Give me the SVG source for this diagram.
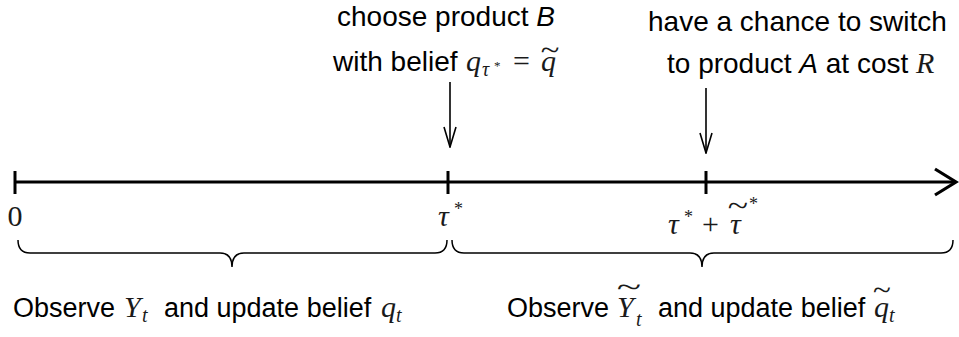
<svg xmlns="http://www.w3.org/2000/svg" width="959" height="337" viewBox="0 0 959 337">
<style>
.s{font-family:"Liberation Sans",Arial,sans-serif;font-size:28px;fill:#000}
.b{font-size:27px}
.m{font-family:"Liberation Serif","Times New Roman",serif;font-style:italic;font-size:30px;fill:#1a1a1a}
.mu{font-family:"Liberation Serif","Times New Roman",serif;font-style:normal;font-size:30px;fill:#1a1a1a}
.sub{font-size:20px}
.st{font-size:18px}
.sst{font-size:13px}
.ti{font-family:"Liberation Serif","Times New Roman",serif;font-size:30px;fill:#1a1a1a;text-anchor:middle}
.ln{stroke:#000;fill:none}
</style>
<defs>
<marker id="ah" viewBox="0 0 22 14" refX="21" refY="7" markerWidth="22" markerHeight="14" markerUnits="userSpaceOnUse" orient="auto">
<path d="M1,1 L21,7 L1,13" fill="none" stroke="#000" stroke-width="1.6"/>
</marker>
</defs>
<g id="axis">
<line class="ln" x1="15" y1="182" x2="955" y2="182" stroke-width="3"/>
<path class="ln" d="M935,169 L956,182 L935,195" stroke-width="3.2"/>
<line class="ln" x1="15" y1="171" x2="15" y2="194" stroke-width="3"/>
<line class="ln" x1="448" y1="171" x2="448" y2="194" stroke-width="3"/>
<line class="ln" x1="706" y1="171" x2="706" y2="194" stroke-width="3"/>
</g>
<g id="label-0">
<text class="mu" x="15" y="226" text-anchor="middle">0</text>
</g>
<g id="label-tau">
<text class="m" x="438" y="226">τ</text>
<text class="mu st" x="454" y="215">*</text>
</g>
<g id="label-tau-tilde">
<text class="m" x="668" y="234">τ</text>
<text class="mu st" x="684" y="223">*</text>
<text class="mu" x="702" y="234">+</text>
<text class="m" x="730" y="234">τ</text>
<text class="ti" transform="translate(738,216) scale(1.25,1)">~</text>
<text class="mu st" x="749" y="210">*</text>
</g>
<g id="event-B">
<text class="s" x="446" y="26" text-anchor="middle">choose product <tspan font-style="italic">B</tspan></text>
<text class="s" x="333" y="71">with belief</text>
<text class="m" x="466" y="71">q</text>
<text class="m sub" x="482" y="76">τ</text>
<text class="mu sst" x="494" y="70">*</text>
<text class="mu" x="513" y="71">=</text>
<text class="m" x="541" y="71">q</text>
<text class="ti" transform="translate(550,60) scale(1.15,1)">~</text>
</g>
<g id="event-A">
<text class="s" x="648" y="31">have a chance to switch</text>
<text class="s" x="667" y="73">to product <tspan font-style="italic">A</tspan> at cost</text>
<text class="m" x="916" y="73">R</text>
</g>
<g id="braces">
<path class="ln" stroke-width="1.5" d="M18,240 Q18,253 30,253 L220,253 Q232,253 232,267 Q232,253 244,253 L435,253 Q447,253 447,240"/>
<path class="ln" stroke-width="1.5" d="M452,240 Q452,253 464,253 L690,253 Q702,253 702,267 Q702,253 714,253 L941,253 Q953,253 953,240"/>
</g>
<g id="phase1">
<text class="s b" x="13" y="317">Observe</text>
<text class="m" x="124" y="317">Y</text>
<text class="m sub" x="142" y="322">t</text>
<text class="s b" x="164" y="317">and update belief</text>
<text class="m" x="381" y="317">q</text>
<text class="m sub" x="396" y="322">t</text>
</g>
<g id="phase2">
<text class="s b" x="507" y="317">Observe</text>
<text class="m" x="617" y="317">Y</text>
<text class="ti" transform="translate(629,297) scale(1.5,1)">~</text>
<text class="m sub" x="636" y="326">t</text>
<text class="s b" x="658" y="317">and update belief</text>
<text class="m" x="874" y="317">q</text>
<text class="ti" transform="translate(882,300) scale(1.1,1)">~</text>
<text class="m sub" x="889" y="322">t</text>
</g>
<g id="connectors">
<line class="ln" x1="450" y1="82" x2="450" y2="147" stroke-width="1.6" marker-end="url(#ah)"/>
<line class="ln" x1="706" y1="88" x2="706" y2="153" stroke-width="1.6" marker-end="url(#ah)"/>
</g>
</svg>
